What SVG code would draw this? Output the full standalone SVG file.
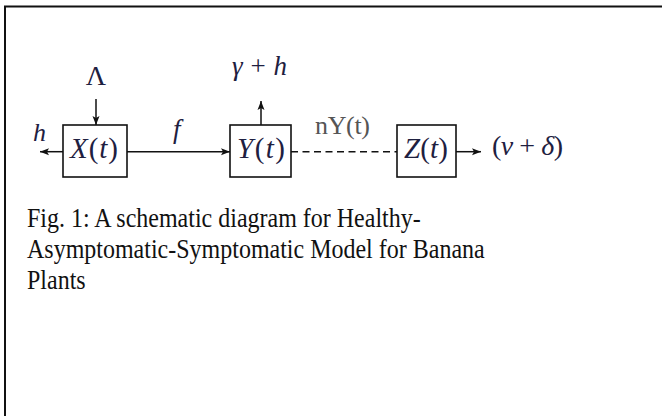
<svg xmlns="http://www.w3.org/2000/svg" width="662" height="416" viewBox="0 0 662 416">
<defs>
<marker id="ah" markerUnits="userSpaceOnUse" markerWidth="10" markerHeight="10" viewBox="0 0 10 10" refX="9" refY="5" orient="auto">
<path d="M0,1.5 L9,5 L0,8.5 L2,5 Z" fill="#111"/>
</marker>
<style>
.box{fill:#fff;stroke:#111;stroke-width:1.6}
.ln{stroke:#111;stroke-width:1.5;fill:none}
.m{font-family:"Liberation Serif","DejaVu Serif",serif;fill:#1e2040}
.i{font-style:italic}
.cap{font-family:"Liberation Serif","Times New Roman",serif;font-size:24px;fill:#111}
</style>
</defs>
<rect x="0" y="0" width="662" height="416" fill="#fff"/>
<rect x="5" y="6.5" width="700" height="500" fill="none" stroke="#111" stroke-width="2"/>
<g id="connectors">
<line class="ln" x1="63" y1="151.7" x2="40" y2="151.7" marker-end="url(#ah)"/>
<line class="ln" x1="127" y1="151.7" x2="230" y2="151.7" marker-end="url(#ah)"/>
<line class="ln" x1="96" y1="99" x2="96" y2="125" marker-end="url(#ah)"/>
<line class="ln" x1="261" y1="125" x2="261" y2="101" marker-end="url(#ah)"/>
<line class="ln" x1="456" y1="151.7" x2="481" y2="151.7" marker-end="url(#ah)"/>
<line class="ln" x1="291" y1="151.7" x2="397" y2="151.7" stroke-dasharray="7,4.5"/>
<text class="m i" x="33" y="141" font-size="26">h</text>
<text class="m i" x="173" y="138" font-size="27">f</text>
<text class="m" x="96" y="85" font-size="28" text-anchor="middle">Λ</text>
<text class="m" x="232" y="75" font-size="27" textLength="55" lengthAdjust="spacing"><tspan class="i">γ</tspan> + <tspan class="i">h</tspan></text>
<text x="315" y="134" font-size="26" font-family="Liberation Serif, serif" fill="#555" textLength="55" lengthAdjust="spacing">nY(t)</text>
<text class="m" x="492" y="155" font-size="28" fill="#34405e" textLength="71" lengthAdjust="spacing">(<tspan class="i">ν</tspan> + <tspan class="i">δ</tspan>)</text>
</g>
<g id="X">
<rect class="box" x="63" y="125" width="64" height="52"/>
<text class="m" x="70" y="158" font-size="29" textLength="48" lengthAdjust="spacing"><tspan class="i">X</tspan>(<tspan class="i">t</tspan>)</text>
</g>
<g id="Y">
<rect class="box" x="230" y="125" width="61" height="52"/>
<text class="m" x="237" y="158" font-size="29" textLength="48" lengthAdjust="spacing"><tspan class="i">Y</tspan>(<tspan class="i">t</tspan>)</text>
</g>
<g id="Z">
<rect class="box" x="397" y="125" width="59" height="52"/>
<text class="m" x="404" y="158" font-size="29" textLength="44" lengthAdjust="spacing"><tspan class="i">Z</tspan>(<tspan class="i">t</tspan>)</text>
</g>
<g id="caption" transform="scale(1,1.12)">
<text class="cap" x="27" y="203">Fig. 1: A schematic diagram for Healthy-</text>
<text class="cap" x="27" y="230.5">Asymptomatic-Symptomatic Model for Banana</text>
<text class="cap" x="27" y="258">Plants</text>
</g>
</svg>
